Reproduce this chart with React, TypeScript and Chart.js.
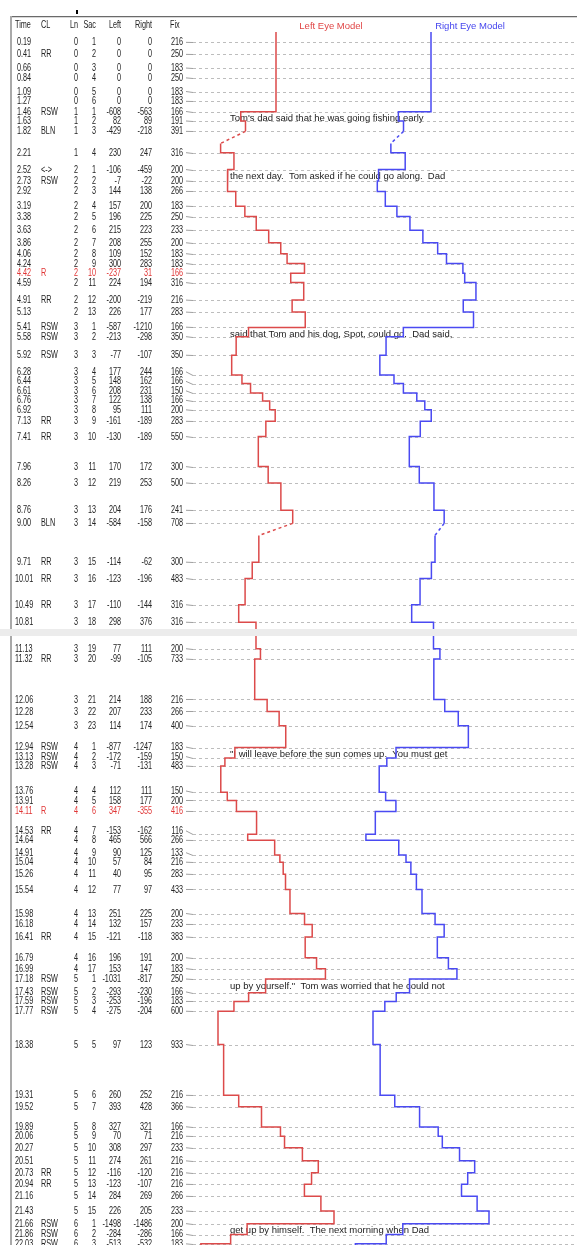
import React, { useEffect, useRef } from 'react';
import { Chart, registerables } from 'chart.js';
Chart.register(...registerables);

// ---------- data ----------
const times = [0.19, 0.41, 0.66, 0.84, 1.09, 1.27, 1.46, 1.63, 1.82, 2.21, 2.52, 2.73, 2.92, 3.19, 3.38, 3.63, 3.86, 4.06, 4.24, 4.42, 4.59, 4.91, 5.13, 5.41, 5.58, 5.92, 6.28, 6.44, 6.61, 6.76, 6.92, 7.13, 7.41, 7.96, 8.26, 8.76, 9.0, 9.71, 10.01, 10.49, 10.81, 11.13, 11.32, 12.06, 12.28, 12.54, 12.94, 13.13, 13.28, 13.76, 13.91, 14.11, 14.53, 14.64, 14.91, 15.04, 15.26, 15.54, 15.98, 16.18, 16.41, 16.79, 16.99, 17.18, 17.43, 17.59, 17.77, 18.38, 19.31, 19.52, 19.89, 20.06, 20.27, 20.51, 20.73, 20.94, 21.16, 21.43, 21.66, 21.86, 22.03];
const codes = ['', 'RR', '', '', '', '', 'RSW', '', 'BLN', '', '<->', 'RSW', '', '', '', '', '', '', '', 'R', '', 'RR', '', 'RSW', 'RSW', 'RSW', '', '', '', '', '', 'RR', 'RR', '', '', '', 'BLN', 'RR', 'RR', 'RR', '', '', 'RR', '', '', '', 'RSW', 'RSW', 'RSW', '', '', 'R', 'RR', '', '', '', '', '', '', '', 'RR', '', '', 'RSW', 'RSW', 'RSW', 'RSW', '', '', '', '', '', '', '', 'RR', 'RR', '', '', 'RSW', 'RSW', 'RSW'];
const lineNums = [0, 0, 0, 0, 0, 0, 1, 1, 1, 1, 2, 2, 2, 2, 2, 2, 2, 2, 2, 2, 2, 2, 2, 3, 3, 3, 3, 3, 3, 3, 3, 3, 3, 3, 3, 3, 3, 3, 3, 3, 3, 3, 3, 3, 3, 3, 4, 4, 4, 4, 4, 4, 4, 4, 4, 4, 4, 4, 4, 4, 4, 4, 4, 5, 5, 5, 5, 5, 5, 5, 5, 5, 5, 5, 5, 5, 5, 5, 6, 6, 6];
const sacNums = [1, 2, 3, 4, 5, 6, 1, 2, 3, 4, 1, 2, 3, 4, 5, 6, 7, 8, 9, 10, 11, 12, 13, 1, 2, 3, 4, 5, 6, 7, 8, 9, 10, 11, 12, 13, 14, 15, 16, 17, 18, 19, 20, 21, 22, 23, 1, 2, 3, 4, 5, 6, 7, 8, 9, 10, 11, 12, 13, 14, 15, 16, 17, 1, 2, 3, 4, 5, 6, 7, 8, 9, 10, 11, 12, 13, 14, 15, 1, 2, 3];
const leftAmp = [0, 0, 0, 0, 0, 0, -608, 82, -429, 230, -106, -7, 144, 157, 196, 215, 208, 109, 300, -237, 224, -200, 226, -587, -213, -77, 177, 148, 208, 122, 95, -161, -130, 170, 219, 204, -584, -114, -123, -110, 298, 77, -99, 214, 207, 114, -877, -172, -71, 112, 158, 347, -153, 465, 90, 57, 40, 77, 251, 132, -121, 196, 153, -1031, -293, -253, -275, 97, 260, 393, 327, 70, 308, 274, -116, -123, 284, 226, -1498, -284, -513];
const rightAmp = [0, 0, 0, 0, 0, 0, -563, 89, -218, 247, -459, -22, 138, 200, 225, 223, 255, 152, 283, 31, 194, -219, 177, -1210, -298, -107, 244, 162, 231, 138, 111, -189, -189, 172, 253, 176, -158, -62, -196, -144, 376, 111, -105, 188, 233, 174, -1247, -159, -131, 111, 177, -355, -162, 566, 125, 84, 95, 97, 225, 157, -118, 191, 147, -817, -230, -196, -204, 123, 252, 428, 321, 71, 297, 261, -120, -107, 269, 205, -1486, -286, -532];
const fixDur = [216, 250, 183, 250, 183, 183, 166, 191, 391, 316, 200, 200, 266, 183, 250, 233, 200, 183, 183, 166, 316, 216, 283, 166, 350, 350, 166, 166, 150, 166, 200, 283, 550, 300, 500, 241, 708, 300, 483, 316, 316, 200, 733, 216, 266, 400, 183, 150, 483, 150, 200, 416, 116, 266, 133, 216, 283, 433, 200, 233, 383, 200, 183, 250, 166, 183, 600, 933, 216, 366, 166, 216, 233, 216, 216, 216, 266, 233, 200, 166, 183];
// modelled horizontal eye position after each saccade
const leftEyePos = [0, 0, 0, 0, 0, 0, -608, -526, -955, -725, -831, -838, -694, -537, -341, -126, 82, 191, 491, 254, 478, 278, 504, -474, -687, -764, -587, -439, -231, -109, -14, -175, -305, -135, 84, 288, -296, -410, -533, -643, -345, -268, -367, -153, 54, 168, -709, -881, -952, -840, -682, -335, -488, -23, 67, 124, 164, 241, 492, 624, 503, 699, 852, -179, -472, -725, -1000, -903, -643, -250, 77, 147, 455, 729, 613, 490, 774, 1000, -498, -782, -1295];
const rightEyePos = [0, 0, 0, 0, 0, 0, -563, -474, -692, -445, -904, -926, -788, -588, -363, -140, 115, 267, 550, 581, 775, 556, 733, -477, -775, -882, -638, -476, -245, -107, 4, -185, -374, -202, 51, 227, 69, 7, -189, -333, 43, 154, 49, 237, 470, 644, -603, -762, -893, -782, -605, -960, -1122, -556, -431, -347, -252, -155, 70, 227, 109, 300, 447, -370, -600, -796, -1000, -877, -625, -197, 124, 195, 492, 753, 633, 526, 795, 1000, -486, -772, -1304];
const sentenceTimes = [1.46, 2.52, 5.41, 12.94, 17.18, 21.66];
const sentences = [
  "Tom's dad said that he was going fishing early",
  'the next day.  Tom asked if he could go along.  Dad',
  'said that Tom and his dog, Spot, could go.  Dad said,',
  '"I will leave before the sun comes up.  You must get',
  'up by yourself."  Tom was worried that he could not',
  'get up by himself.  The next morning when Dad',
];
const headers = ['Time', 'CL', 'Ln', 'Sac', 'Left', 'Right', 'Fix'];
const BLINK_SEC = 0.22;

// ---------- styling / layout ----------
const W = 577;
const PX_PER_SEC = 54.6;
const PX_PER_UNIT = 0.058;
const RED = '#dc4a4a';
const BLUE = '#4a4af2';
const TEXT = '#222';
const ROW_GAP = 9.5;
const TABLE_FONT = '11px "Liberation Sans", Arial, sans-serif';
const NARROW = 0.66;
const PANELS = [
  { top: 0, height: 629, y0: 32, isTop: true },
  { top: 629, height: 616, y0: 41 - 629, isTop: false },
];

function buildTrace(pos: number[]) {
  const pts: { x: number; y: number }[] = [{ x: 0, y: 0 }];
  const dashed = new Set<number>();
  let cur = 0;
  for (let i = 0; i < times.length; i++) {
    pts.push({ x: cur, y: times[i] });
    if (codes[i] === 'BLN') {
      dashed.add(pts.length - 1);
      pts.push({ x: pos[i], y: times[i] + BLINK_SEC });
    } else {
      pts.push({ x: pos[i], y: times[i] });
    }
    cur = pos[i];
  }
  pts.push({ x: cur, y: times[times.length - 1] + fixDur[fixDur.length - 1] / 1000 });
  return { pts, dashed };
}

function narrow(ctx: CanvasRenderingContext2D, s: string, x: number, y: number, align: CanvasTextAlign) {
  ctx.save();
  ctx.translate(x, y);
  ctx.scale(NARROW, 1);
  ctx.textAlign = align;
  ctx.fillText(s, 0, 0);
  ctx.restore();
}

function makePlugin(isTop: boolean) {
  return {
    id: 'eyeTable',
    beforeDatasetsDraw(chart: any) {
      const { ctx, width, height } = chart;
      const ys = chart.scales.y;
      ctx.save();
      ctx.fillStyle = '#fff';
      ctx.fillRect(0, 0, width, height);

      const rows: number[] = [];
      times.forEach((t, i) => {
        const p = ys.getPixelForValue(t);
        if (p >= 0 && p <= height) rows.push(i);
      });
      const lineY = rows.map((i) => ys.getPixelForValue(times[i]));
      const textY = lineY.slice();
      for (let k = rows.length - 2; k >= 0; k--) textY[k] = Math.min(lineY[k], textY[k + 1] - ROW_GAP);

      // dashed row lines + leaders
      ctx.lineWidth = 1;
      rows.forEach((i, k) => {
        const ly = Math.round(lineY[k]) + 0.5;
        ctx.strokeStyle = '#a0a0a0';
        ctx.setLineDash([]);
        ctx.beginPath();
        ctx.moveTo(186, textY[k]);
        ctx.lineTo(193, ly);
        ctx.stroke();
        ctx.strokeStyle = '#bdbdbd';
        ctx.setLineDash([3, 3]);
        ctx.beginPath();
        ctx.moveTo(193, ly);
        ctx.lineTo(W, ly);
        ctx.stroke();
      });
      ctx.setLineDash([]);

      // row texts
      ctx.font = TABLE_FONT;
      ctx.textBaseline = 'middle';
      rows.forEach((i, k) => {
        const y = textY[k];
        ctx.fillStyle = codes[i] === 'R' ? '#e03434' : TEXT;
        const t = times[i];
        narrow(ctx, t.toFixed(2), t < 10 ? 17 : 15, y, 'left');
        if (codes[i]) narrow(ctx, codes[i], 41, y, 'left');
        narrow(ctx, String(lineNums[i]), 78, y, 'right');
        narrow(ctx, String(sacNums[i]), 96, y, 'right');
        narrow(ctx, String(leftAmp[i]), 121, y, 'right');
        narrow(ctx, String(rightAmp[i]), 152, y, 'right');
        narrow(ctx, String(fixDur[i]), 183, y, 'right');
      });

      // sentences of the passage
      ctx.fillStyle = '#222';
      ctx.font = '9.5px "Liberation Sans", Arial, sans-serif';
      ctx.textAlign = 'left';
      sentenceTimes.forEach((t, s) => {
        const y = ys.getPixelForValue(t) + 7;
        if (y > 0 && y < height + 6) ctx.fillText(sentences[s], 230, y);
      });

      if (isTop) {
        // frame
        ctx.fillStyle = '#ffffff';
        ctx.fillRect(0, 0, width, 16);
        ctx.fillStyle = '#6a6a6a';
        ctx.fillRect(10, 16, W - 10, 1);
        ctx.fillStyle = '#d8d8d8';
        ctx.fillRect(10, 17, W - 10, 1);
        ctx.fillStyle = '#a9a9a9';
        ctx.fillRect(10, 16, 2, height - 16);
        ctx.fillStyle = '#000';
        ctx.fillRect(76, 10, 2, 4);
        // headers
        ctx.fillStyle = TEXT;
        ctx.font = TABLE_FONT;
        ctx.textBaseline = 'middle';
        narrow(ctx, headers[0], 15, 25, 'left');
        narrow(ctx, headers[1], 41, 25, 'left');
        narrow(ctx, headers[2], 78, 25, 'right');
        narrow(ctx, headers[3], 96, 25, 'right');
        narrow(ctx, headers[4], 121, 25, 'right');
        narrow(ctx, headers[5], 152, 25, 'right');
        narrow(ctx, headers[6], 170, 25, 'left');
        ctx.font = '9.5px "Liberation Sans", Arial, sans-serif';
        ctx.textAlign = 'center';
        ctx.fillStyle = '#e04646';
        ctx.fillText('Left Eye Model', 331, 26);
        ctx.fillStyle = '#4646ee';
        ctx.fillText('Right Eye Model', 470, 26);
      } else {
        ctx.fillStyle = '#a9a9a9';
        ctx.fillRect(10, 7, 2, height - 7);
      }
      ctx.restore();
    },
    afterDatasetsDraw(chart: any) {
      if (isTop) return;
      const { ctx } = chart;
      ctx.save();
      ctx.fillStyle = '#ececec';
      ctx.fillRect(0, 0, W, 7);
      ctx.restore();
    },
  };
}

function makeChart(canvas: HTMLCanvasElement, panel: { height: number; y0: number; isTop: boolean }) {
  const L = buildTrace(leftEyePos);
  const R = buildTrace(rightEyePos);
  const tMin = -panel.y0 / PX_PER_SEC;
  const tMax = (panel.height - panel.y0) / PX_PER_SEC;
  return new Chart(canvas, {
    type: 'scatter',
    data: {
      datasets: [
        {
          data: L.pts,
          xAxisID: 'xL',
          yAxisID: 'y',
          showLine: true,
          borderColor: RED,
          backgroundColor: RED,
          borderWidth: 1.5,
          pointRadius: 0,
          segment: { borderDash: (c: any) => (L.dashed.has(c.p0DataIndex) ? [3, 3] : undefined) },
        },
        {
          data: R.pts,
          xAxisID: 'xR',
          yAxisID: 'y',
          showLine: true,
          borderColor: BLUE,
          backgroundColor: BLUE,
          borderWidth: 1.5,
          pointRadius: 0,
          segment: { borderDash: (c: any) => (R.dashed.has(c.p0DataIndex) ? [3, 3] : undefined) },
        },
      ],
    },
    options: {
      animation: false,
      responsive: false,
      devicePixelRatio: 1,
      events: [],
      layout: { padding: 0 },
      plugins: { legend: { display: false }, tooltip: { enabled: false }, title: { display: false } },
      scales: {
        x: { display: false },
        xL: { type: 'linear', display: false, min: -276 / PX_PER_UNIT, max: (W - 276) / PX_PER_UNIT },
        xR: { type: 'linear', display: false, min: -431 / PX_PER_UNIT, max: (W - 431) / PX_PER_UNIT },
        y: { type: 'linear', display: false, reverse: true, min: tMin, max: tMax },
      },
    } as any,
    plugins: [makePlugin(panel.isTop)],
  });
}

export default function App() {
  const topRef = useRef<HTMLCanvasElement>(null);
  const botRef = useRef<HTMLCanvasElement>(null);
  useEffect(() => {
    const charts = [makeChart(topRef.current!, PANELS[0]), makeChart(botRef.current!, PANELS[1])];
    return () => charts.forEach((c) => c.destroy());
  }, []);
  return (
    <div style={{ position: 'absolute', left: 0, top: 0, width: W, height: 1245, overflow: 'hidden', background: '#fff' }}>
      <canvas ref={topRef} width={W} height={PANELS[0].height} style={{ position: 'absolute', left: 0, top: PANELS[0].top, display: 'block' }} />
      <canvas ref={botRef} width={W} height={PANELS[1].height} style={{ position: 'absolute', left: 0, top: PANELS[1].top, display: 'block' }} />
    </div>
  );
}
